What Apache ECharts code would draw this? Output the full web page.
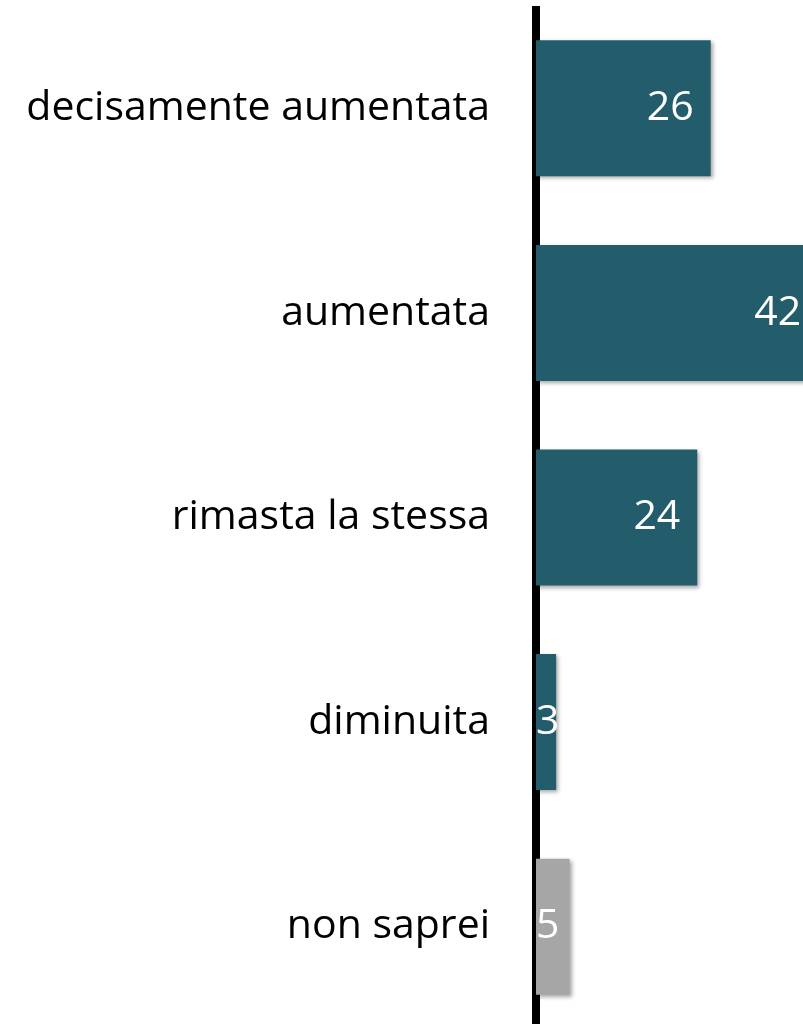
<!DOCTYPE html>
<html>
<head>
<meta charset="utf-8">
<script src="https://cdn.jsdelivr.net/npm/echarts@6/dist/echarts.min.js"></script>
<style>
html,body{margin:0;padding:0;background:#fff;}
#c{width:803px;height:1024px;}
</style>
</head>
<body>
<div id="c"></div>
<script>
var categories = ['decisamente aumentata', 'aumentata', 'rimasta la stessa', 'diminuita', 'non saprei'];
var values = [26, 42, 24, 3, 5];
var colors = ['#235C6B', '#235C6B', '#235C6B', '#235C6B', '#A6A6A6'];

var chart = echarts.init(document.getElementById('c'));
var data = values.map(function (v, i) {
  return {
    value: v,
    itemStyle: { color: colors[i] },
    label: v < 10 ? { position: 'insideLeft', distance: 0 } : { position: 'insideRight', distance: 17 }
  };
});
chart.setOption({
  animation: false,
  grid: { left: 536, width: 336, top: 6, height: 1023, containLabel: false, outerBoundsMode: 'none' },
  xAxis: {
    type: 'value', min: 0, max: 50, show: false
  },
  yAxis: {
    type: 'category', data: categories, inverse: true,
    axisLine: { show: true, lineStyle: { color: '#000', width: 8, cap: 'butt' } },
    axisTick: { show: false },
    splitLine: { show: false },
    axisLabel: { color: '#000', fontSize: 41, fontFamily: 'Open Sans', margin: 46 }
  },
  series: [{
    type: 'bar',
    data: data,
    barWidth: 136,
    z: 1,
    itemStyle: {
      shadowColor: 'rgba(0,0,0,0.35)', shadowBlur: 4, shadowOffsetX: 2, shadowOffsetY: 2
    },
    label: {
      show: true, color: '#fff', fontSize: 41, fontFamily: 'Open Sans'
    }
  }]
});
</script>
</body>
</html>
